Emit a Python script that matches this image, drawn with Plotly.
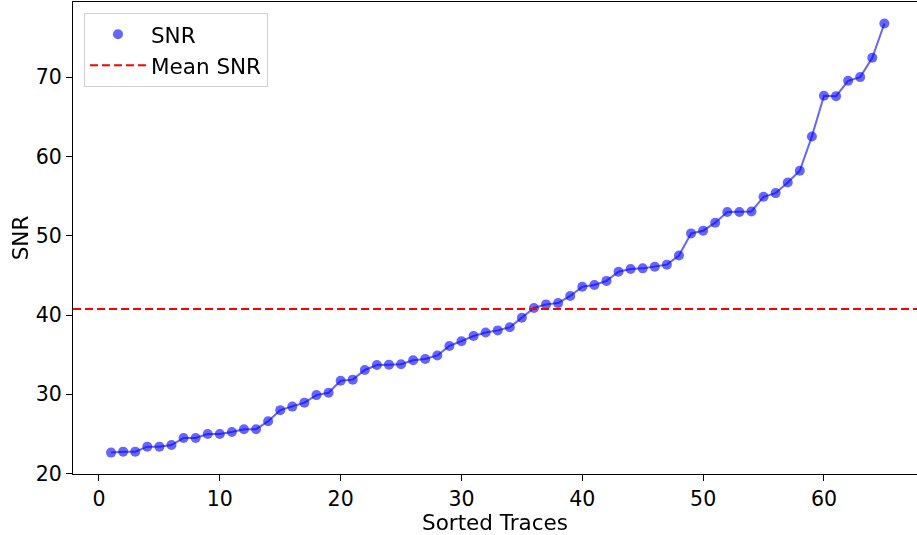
import numpy as np
import plotly.graph_objects as go

# Sorted per-trace SNR values
trace_index = list(range(1, 66))
snr_values = [
    22.65, 22.77, 22.77, 23.40, 23.40, 23.60, 24.50, 24.50, 25.00, 25.00,
    25.25, 25.60, 25.60, 26.60, 28.00, 28.45, 28.95, 29.90, 30.20, 31.70,
    31.85, 33.07, 33.70, 33.74, 33.80, 34.30, 34.45, 34.90, 36.10, 36.70,
    37.35, 37.80, 38.06, 38.45, 39.66, 40.88, 41.34, 41.50, 42.40, 43.57,
    43.78, 44.30, 45.46, 45.80, 45.88, 46.09, 46.35, 47.50, 50.29, 50.63,
    51.64, 52.98, 52.98, 53.06, 54.91, 55.37, 56.70, 58.19, 62.52, 67.64,
    67.60, 69.53, 70.00, 72.43, 76.76,
]
mean_snr = float(np.mean(snr_values))

x_range = [-2.15, 67.7]
y_range = [19.95, 79.47]
x_ticks = [0, 10, 20, 30, 40, 50, 60]
y_ticks = [20, 30, 40, 50, 60, 70]

FONT = "DejaVu Sans"
TICK_SIZE = 20.5
LABEL_SIZE = 21.5

fig = go.Figure()

# connecting line (no legend entry)
fig.add_trace(go.Scatter(
    x=trace_index, y=snr_values, mode="lines",
    line=dict(color="blue", width=2), opacity=0.6,
    showlegend=False, hoverinfo="skip",
))
# points
fig.add_trace(go.Scatter(
    x=trace_index, y=snr_values, mode="markers", name="SNR",
    marker=dict(color="blue", size=10, line=dict(width=0)), opacity=0.6,
))
# mean reference line
fig.add_trace(go.Scatter(
    x=x_range, y=[mean_snr, mean_snr], mode="lines", name="Mean SNR",
    line=dict(color="red", width=2, dash="8px,4px"),
))

fig.update_layout(
    width=917, height=535,
    margin=dict(l=73, r=0, t=2, b=61),
    paper_bgcolor="white", plot_bgcolor="white",
    font=dict(family=FONT, size=LABEL_SIZE, color="black"),
    legend=dict(
        x=0.013, y=0.977, xanchor="left", yanchor="top",
        bgcolor="rgba(255,255,255,0.8)", bordercolor="#d0d0d0", borderwidth=1,
        font=dict(family=FONT, size=LABEL_SIZE, color="black"),
        itemwidth=56,
    ),
    xaxis=dict(
        range=x_range, tickvals=x_ticks, showgrid=False, zeroline=False,
        showline=True, linecolor="black", linewidth=1, mirror=True,
        ticks="outside", ticklen=6, tickcolor="black",
        title=dict(text="Sorted Traces", standoff=4, font=dict(size=LABEL_SIZE)),
        tickfont=dict(size=TICK_SIZE),
    ),
    yaxis=dict(
        range=y_range, tickvals=y_ticks, showgrid=False, zeroline=False,
        showline=True, linecolor="black", linewidth=1,
        ticks="outside", ticklen=6, tickcolor="black",
        title=dict(text="SNR", standoff=1, font=dict(size=LABEL_SIZE)),
        tickfont=dict(size=TICK_SIZE),
    ),
)

fig.write_html("out.html")
